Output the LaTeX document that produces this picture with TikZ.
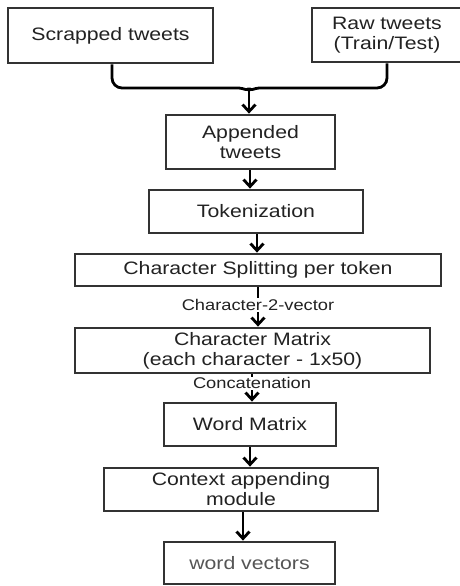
\documentclass[tikz,border=0pt]{standalone}
\usepackage{fontspec}
\setmainfont[FakeStretch=1.18]{Liberation Sans}
\usetikzlibrary{arrows.meta}
\definecolor{boxline}{HTML}{333333}
\definecolor{txt}{HTML}{222222}
\tikzset{
  box/.style={draw=boxline, line width=2.8pt, fill=white, rectangle, align=center,
    text=txt, font=\fontsize{18pt}{20pt}\selectfont, inner sep=0pt},
  flow/.style={draw=black, line width=2.8pt,
    -{Straight Barb[length=7pt,width=13pt,line width=2.8pt]}},
  lbl/.style={text=txt, font=\fontsize{15.5pt}{17pt}\selectfont, inner sep=0pt}
}
\begin{document}
\begin{tikzpicture}[x=1pt,y=-1pt]
\useasboundingbox (0,0) rectangle (459,586);
\node[box, minimum width=205pt, minimum height=55pt] (scr) at (110.5,35.5) {Scrapped tweets};
\node[box, minimum width=150pt, minimum height=54pt] (raw) at (387,35) {Raw tweets\\(Train/Test)};
\node[box, minimum width=169pt, minimum height=54pt] (app) at (250.5,142) {Appended\\tweets};
\node[box, minimum width=214pt, minimum height=43pt] (tok) at (256,211.5) {Tokenization};
\node[box, minimum width=366pt, minimum height=32pt] (cs) at (258,270) {Character Splitting per token};
\node[box, minimum width=355pt, minimum height=45pt] (cm) at (252.5,350.5) {Character Matrix\\(each character - 1x50)};
\node[box, minimum width=172pt, minimum height=43pt] (wm) at (250,424.5) {Word Matrix};
\node[box, minimum width=274pt, minimum height=43pt] (ctx) at (241,489.5) {Context appending\\module};
\node[box, minimum width=171pt, minimum height=42pt, text={rgb,255:red,85;green,85;blue,85}] (wv) at (249.5,563) {word vectors};

\coordinate (mj) at (249,88);
\draw[line width=2.8pt, draw=black] (scr.south -| 112,0) -- (112,78) to[out=-90,in=180] (122,88) -- (239,88) to[out=0,in=-90] (mj);
\draw[line width=2.8pt, draw=black] (raw.south) -- (387,78) to[out=-90,in=0] (377,88) -- (259,88) to[out=180,in=-90] (mj);
\draw[flow] (mj) -- (app.north -| mj);
\draw[flow] (app.south -| 250,0) -- (tok.north -| 250,0);
\draw[flow] (tok.south -| 257,0) -- (cs.north -| 257,0);
\draw[flow] (cs.south -| 258,0) -- node[lbl, fill=white, inner sep=1pt, pos=0.45] (l1) {Character-2-vector} (cm.north -| 258,0);
\draw[flow] (cm.south -| 252,0) -- node[lbl, fill=white, inner sep=1pt, pos=0.33] (l2) {Concatenation} (wm.north -| 252,0);
\draw[flow] (wm.south -| 250,0) -- (ctx.north -| 250,0);
\draw[flow] (ctx.south -| 243,0) -- (wv.north -| 243,0);
\end{tikzpicture}
\end{document}
